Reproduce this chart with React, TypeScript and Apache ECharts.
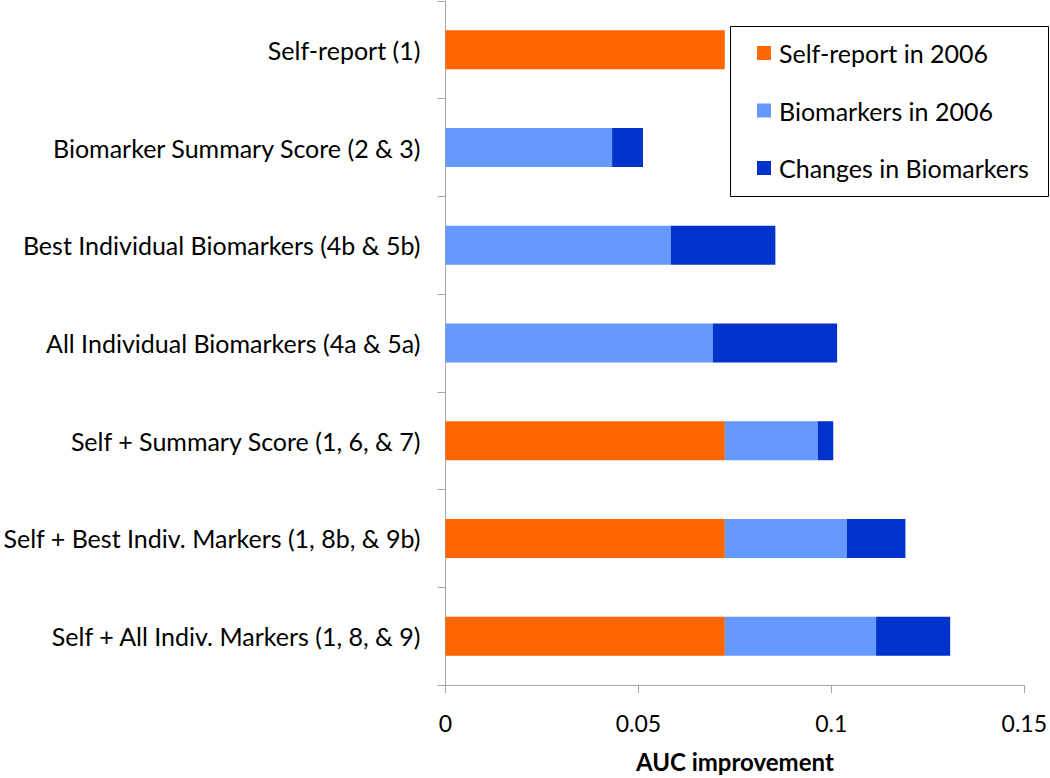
import React, { useEffect, useRef } from "react";
import * as echarts from "echarts";

const categories = [
  "Self-report (1)",
  "Biomarker Summary Score (2 & 3)",
  "Best Individual Biomarkers (4b & 5b)",
  "All Individual Biomarkers (4a & 5a)",
  "Self + Summary Score (1, 6, & 7)",
  "Self + Best Indiv. Markers (1, 8b, & 9b)",
  "Self + All Indiv. Markers (1, 8, & 9)",
];

const selfReport2006 = [0.0724, 0, 0, 0, 0.0724, 0.0724, 0.0724];
const biomarkers2006 = [0, 0.0432, 0.0584, 0.0693, 0.0241, 0.0316, 0.0392];
const changesInBiomarkers = [0, 0.008, 0.0271, 0.0322, 0.004, 0.0152, 0.0192];

const xTicks = { min: 0, max: 0.15, interval: 0.05 };

const FONT = "Lato";

export default function App() {
  const ref = useRef<HTMLDivElement>(null);
  useEffect(() => {
    if (!ref.current) return;
    const chart = echarts.init(ref.current, null, { renderer: "svg" });
    const mk = (name: string, data: number[], color: string) => ({
      name,
      type: "bar",
      stack: "total",
      data,
      barWidth: 39,
      itemStyle: { color },
      emphasis: { disabled: true },
    });
    chart.setOption({
      animation: false,
      backgroundColor: "#ffffff",
      textStyle: { fontFamily: FONT },
      grid: { left: 443, right: 25, top: 1, bottom: 86, containLabel: false },
      legend: {
        orient: "vertical",
        left: 757,
        top: 40,
        padding: 0,
        icon: "rect",
        itemWidth: 14,
        itemHeight: 14,
        itemGap: 31.5,
        selectedMode: false,
        textStyle: {
          fontFamily: FONT,
          fontSize: 25,
          lineHeight: 26,
          color: "#000",
          padding: [0, 0, 0, 3],
        },
        data: ["Self-report in 2006", "Biomarkers in 2006", "Changes in Biomarkers"],
      },
      graphic: [
        {
          type: "rect",
          shape: { x: 730.5, y: 26.5, width: 318, height: 170 },
          style: { fill: "none", stroke: "#000", lineWidth: 1 },
          z: 10,
        },
      ],
      xAxis: {
        type: "value",
        min: xTicks.min,
        max: xTicks.max,
        interval: xTicks.interval,
        name: "AUC improvement",
        nameLocation: "middle",
        nameGap: 64,
        nameTextStyle: {
          fontFamily: FONT,
          fontSize: 24,
          fontWeight: "bold",
          color: "#000",
        },
        axisLine: { show: true, lineStyle: { color: "#a6a6a6", width: 1 } },
        axisTick: { show: true, length: 8, lineStyle: { color: "#a6a6a6" } },
        axisLabel: {
          margin: 26,
          fontFamily: FONT,
          fontSize: 23,
          color: "#000",
        },
        splitLine: { show: false },
      },
      yAxis: {
        type: "category",
        inverse: true,
        data: categories,
        axisLine: { show: true, lineStyle: { color: "#a6a6a6", width: 1 } },
        axisTick: { show: true, length: 8, alignWithLabel: false, lineStyle: { color: "#a6a6a6" } },
        axisLabel: {
          margin: 25,
          fontFamily: FONT,
          fontSize: 25,
          color: "#000",
        },
        splitLine: { show: false },
      },
      series: [
        mk("Self-report in 2006", selfReport2006, "#ff6600"),
        mk("Biomarkers in 2006", biomarkers2006, "#6699ff"),
        mk("Changes in Biomarkers", changesInBiomarkers, "#0033cc"),
      ],
    });
    return () => chart.dispose();
  }, []);
  return <div ref={ref} style={{ width: 1050, height: 778, position: "absolute", left: 0, top: 0 }} />;
}
